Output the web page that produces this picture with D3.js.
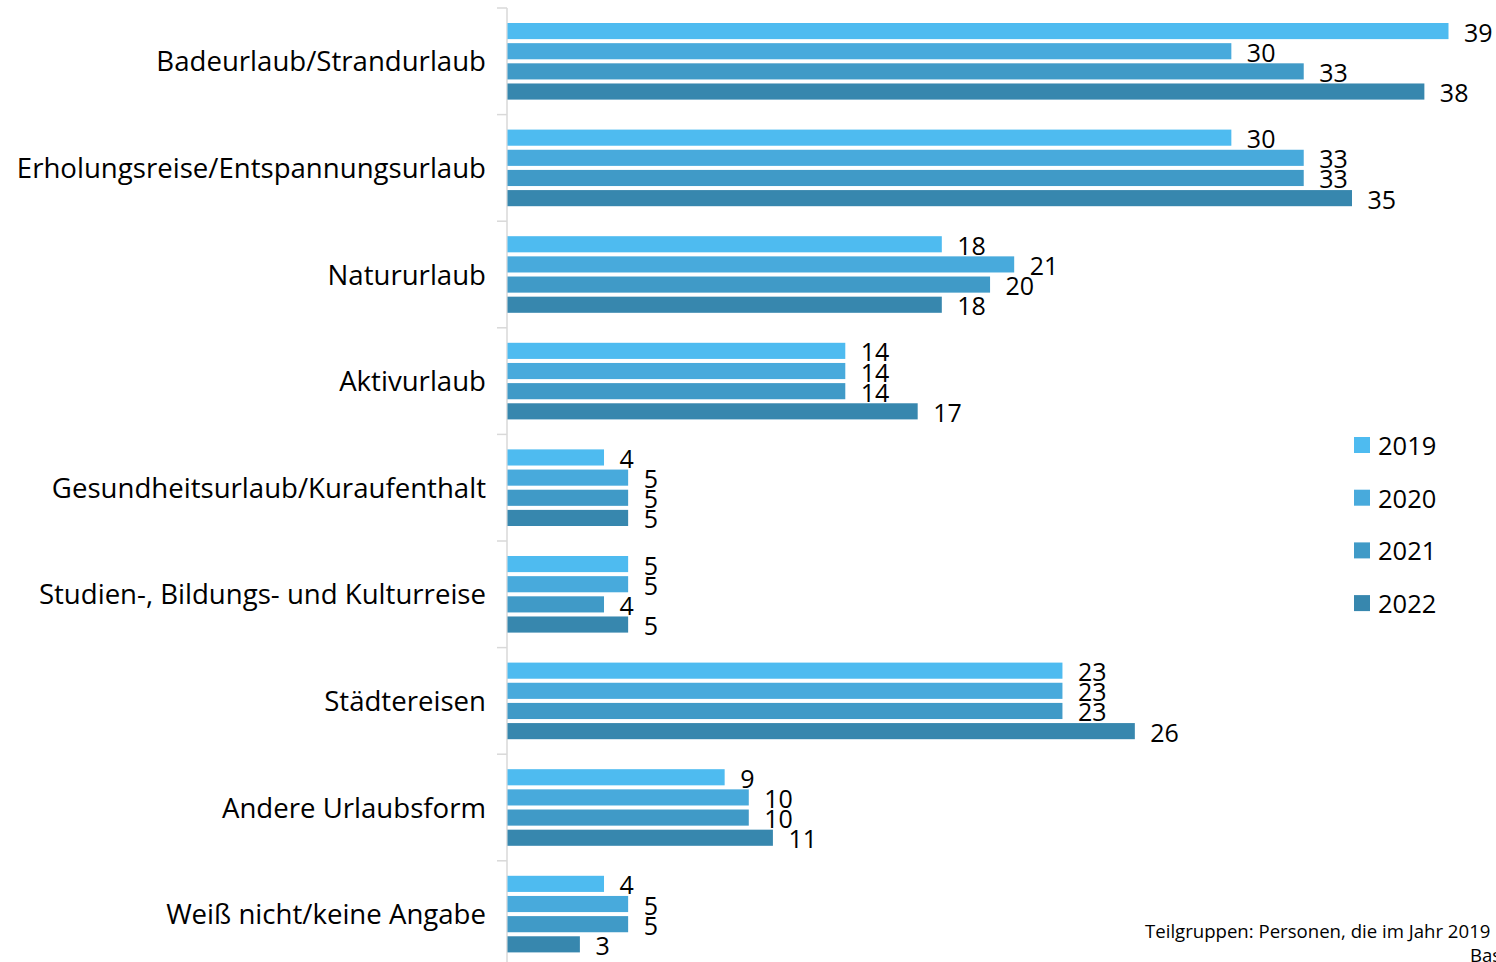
<!DOCTYPE html>
<html><head><meta charset="utf-8">
<script src="https://cdn.jsdelivr.net/npm/d3@7"></script>
<style>body{margin:0;background:#fff}svg{display:block}text{font-family:"Open Sans",sans-serif;fill:#000}</style>
</head><body>
<script>
const categories = ["Badeurlaub/Strandurlaub","Erholungsreise/Entspannungsurlaub","Natururlaub","Aktivurlaub","Gesundheitsurlaub/Kuraufenthalt","Studien-, Bildungs- und Kulturreise","Städtereisen","Andere Urlaubsform","Weiß nicht/keine Angabe"];
const years = ["2019","2020","2021","2022"];
const v2019 = [39,30,18,14,4,5,23,9,4];
const v2020 = [30,33,21,14,5,5,23,10,5];
const v2021 = [33,33,20,14,5,4,23,10,5];
const v2022 = [38,35,18,17,5,5,26,11,3];
const seriesValues = [v2019,v2020,v2021,v2022];
const colors = ["#4EBBF0","#48AADC","#409AC7","#3787AE"];
const footnote1 = "Teilgruppen: Personen, die im Jahr 2019";
const footnote2 = "Basis";

const W=1496,H=962;
const svg=d3.select("body").append("svg").attr("width",W).attr("height",H);
const x=d3.scaleLinear().domain([0,39]).range([507,1448]);
const y=d3.scaleBand().domain(categories).range([8,8+9*106.6]).padding(0);
const yi=d3.scaleBand().domain(years).range([15,y.bandwidth()-15]).paddingInner(0.2);
const color=d3.scaleOrdinal().domain(years).range(colors);

// axis
svg.append("line").attr("x1",507).attr("x2",507).attr("y1",8).attr("y2",H).attr("stroke","#d9d9d9").attr("stroke-width",1.5);
const bounds=categories.map(c=>y(c));
svg.selectAll("line.tick").data(bounds).join("line").attr("class","tick")
 .attr("x1",497).attr("x2",507).attr("y1",d=>d).attr("y2",d=>d).attr("stroke","#d9d9d9").attr("stroke-width",1.5);

// category labels
svg.selectAll("text.cat").data(categories).join("text").attr("class","cat")
 .attr("x",486).attr("y",d=>y(d)+y.bandwidth()/2-1).attr("text-anchor","end")
 .attr("dominant-baseline","central").attr("font-size",27.6).text(d=>d);

const rows=[];
categories.forEach((c,i)=>years.forEach((yr,j)=>rows.push({c,yr,v:seriesValues[j][i]})));
const g=svg.append("g");
g.selectAll("rect").data(rows).join("rect")
 .attr("x",x(0)+0.5).attr("y",d=>y(d.c)+yi(d.yr))
 .attr("width",d=>x(d.v)-x(0)).attr("height",yi.bandwidth())
 .attr("fill",d=>color(d.yr));
g.selectAll("text").data(rows).join("text")
 .attr("x",d=>x(d.v)+16).attr("y",d=>y(d.c)+yi(d.yr)+yi.bandwidth()/2+0.5)
 .attr("dominant-baseline","central").attr("font-size",25).text(d=>d.v);

// legend
const leg=svg.append("g");
years.forEach((yr,i)=>{
  const cy=445+i*52.7;
  leg.append("rect").attr("x",1354).attr("y",cy-8).attr("width",16).attr("height",16).attr("fill",color(yr));
  leg.append("text").attr("x",1378).attr("y",cy).attr("dominant-baseline","central").attr("font-size",25.5).text(yr);
});

svg.append("text").attr("x",1145).attr("y",938).attr("font-size",18.6).text(footnote1);
svg.append("text").attr("x",1470).attr("y",962).attr("font-size",18.6).text(footnote2);
</script>
</body></html>
